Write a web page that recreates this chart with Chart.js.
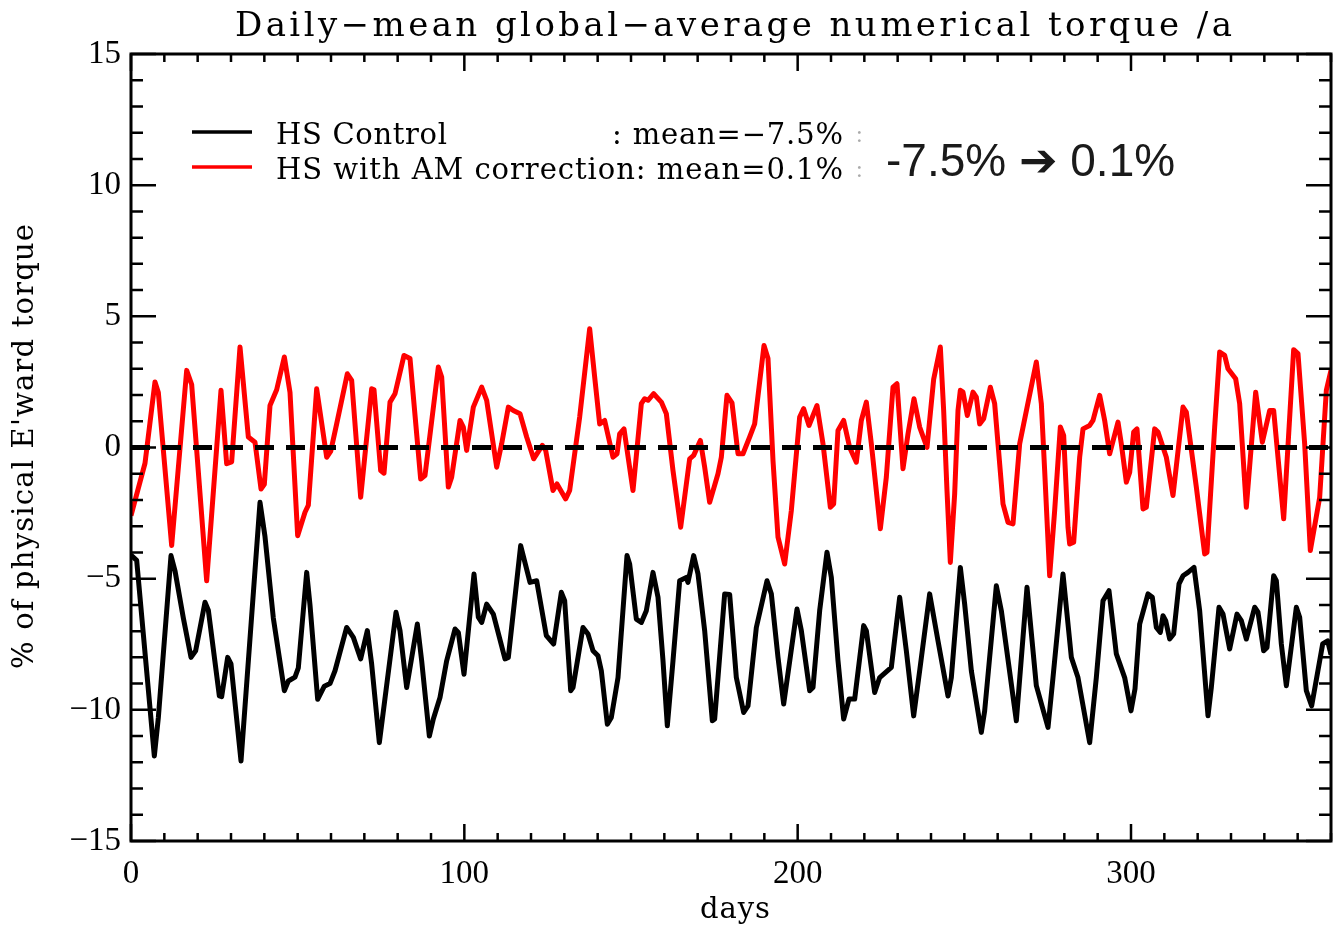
<!DOCTYPE html>
<html>
<head>
<meta charset="utf-8">
<script src="https://cdn.jsdelivr.net/npm/chart.js@4"></script>
<style>
  html, body { margin: 0; padding: 0; background: #fff; }
  canvas { display: block; }
</style>
</head>
<body>
<canvas id="chartTorque" width="1333" height="928"></canvas>
<script>
// days / values (line vertices)
const ctrlDays = [0, 1.7, 7.0, 8.2, 12.0, 13.2, 15.7, 18.0, 19.4, 22.2, 23.2, 26.5, 27.2, 29.0, 30.0, 33.0, 38.7, 40.2, 42.7, 46.0,
    47.2, 49.2, 50.2, 52.7, 53.7, 56.0, 58.0, 59.7, 61.2, 64.7, 66.7, 68.9, 70.9, 72.2, 74.5, 79.5, 80.7, 82.7, 85.9, 87.2,
    89.5, 90.7, 92.7, 94.7, 97.2, 98.2, 99.9, 102.9, 104.2, 105.2, 106.7, 108.7, 112.2, 113.2, 116.9, 119.7, 121.7, 124.6, 126.8, 129.1,
    130.1, 131.9, 132.6, 135.6, 137.1, 138.6, 140.1, 141.1, 142.9, 144.1, 146.1, 148.8, 149.6, 151.6, 153.1, 154.6, 156.6, 158.1, 159.6, 160.9,
    162.6, 164.6, 166.6, 167.1, 168.8, 170.1, 172.1, 174.4, 175.1, 178.1, 179.6, 181.6, 183.8, 185.1, 187.6, 190.8, 192.1, 194.1, 195.8, 199.8,
    201.1, 203.6, 204.6, 206.6, 208.8, 210.1, 212.1, 213.8, 215.4, 217.1, 219.8, 220.6, 223.1, 224.6, 228.1, 230.6, 232.6, 234.8, 236.6, 239.6,
    242.1, 245.1, 246.1, 248.8, 250.1, 252.1, 255.1, 256.1, 259.6, 261.1, 265.6, 268.8, 271.6, 275.1, 276.6, 279.6, 282.1, 284.1, 287.6, 289.6,
    291.6, 293.4, 295.6, 298.1, 300.0, 301.2, 302.6, 305.1, 306.4, 307.6, 308.8, 309.6, 310.4, 311.6, 312.8, 314.4, 315.6, 317.1, 318.9, 320.6,
    323.1, 324.1, 326.4, 327.6, 329.6, 331.8, 333.1, 334.6, 337.1, 338.1, 339.8, 340.8, 342.8, 343.6, 345.1, 346.6, 349.6, 350.6, 352.6, 354.2,
    357.5, 359.0, 360.0];
const ctrlValues = [-4.1, -4.3, -11.76, -10.3, -4.12, -4.7, -6.5, -8.0, -7.75, -5.9, -6.2, -9.47, -9.5, -8.0, -8.25, -11.95, -2.09, -3.4, -6.5, -9.27,
    -8.9, -8.75, -8.4, -4.76, -6.0, -9.6, -9.1, -9.0, -8.51, -6.86, -7.24, -8.06, -6.98, -8.26, -11.25, -6.28, -6.98, -9.15, -6.73, -8.13,
    -11.0, -10.35, -9.53, -8.13, -6.92, -7.05, -8.64, -4.82, -6.47, -6.67, -5.97, -6.35, -8.06, -8.0, -3.74, -5.14, -5.08, -7.17, -7.49, -5.52,
    -5.84, -9.27, -9.15, -6.86, -7.11, -7.75, -7.94, -8.51, -10.55, -10.29, -8.77, -4.12, -4.44, -6.54, -6.67, -6.22, -4.76, -5.71, -8.13, -10.61,
    -8.13, -5.08, -4.95, -5.14, -4.12, -4.82, -6.98, -10.42, -10.35, -5.58, -5.6, -8.77, -10.1, -9.85, -6.86, -5.08, -5.58, -8.0, -9.78, -6.16,
    -6.98, -9.27, -9.15, -6.22, -3.99, -4.95, -8.13, -10.35, -9.59, -9.59, -6.79, -6.98, -9.34, -8.77, -8.38, -5.71, -7.75, -10.23, -8.51, -5.58,
    -7.37, -9.47, -8.77, -4.57, -5.97, -8.51, -10.86, -10.04, -5.27, -6.22, -10.42, -5.33, -9.08, -10.67, -8.77, -4.82, -8.0, -8.77, -11.25, -8.77,
    -5.84, -5.46, -7.87, -8.77, -10.04, -9.2, -6.73, -5.58, -5.71, -6.86, -7.05, -6.41, -6.6, -7.3, -7.11, -5.2, -4.89, -4.76, -4.57, -6.22,
    -10.23, -9.15, -6.09, -6.35, -7.68, -6.35, -6.6, -7.3, -6.09, -6.28, -7.75, -7.62, -4.89, -5.08, -7.49, -9.08, -6.09, -6.47, -9.27, -9.85,
    -7.49, -7.37, -7.9];

const amDays = [0, 4.2, 7.2, 8.2, 12.2, 16.7, 18.2, 22.7, 27.0, 28.7, 30.2, 32.7, 35.2, 37.2, 39.0, 40.0, 41.7, 43.7, 46.0, 47.7,
    50.0, 52.2, 53.2, 55.7, 58.7, 59.9, 61.7, 64.9, 66.2, 68.9, 72.2, 72.9, 74.9, 75.9, 77.7, 79.2, 81.9, 83.7, 86.9, 88.2,
    92.2, 93.2, 95.2, 96.2, 98.7, 99.7, 100.7, 102.7, 105.2, 106.7, 109.7, 111.2, 113.2, 114.7, 116.7, 118.7, 120.8, 123.4, 124.4, 126.6,
    127.8, 130.4, 131.6, 134.6, 137.6, 139.1, 140.6, 142.1, 144.6, 145.8, 146.6, 147.9, 150.6, 153.1, 154.1, 155.1, 156.8, 159.1, 160.6, 162.6,
    164.9, 167.6, 168.8, 170.8, 172.1, 173.6, 176.1, 177.1, 178.8, 180.3, 182.1, 183.6, 185.6, 187.1, 189.9, 191.1, 192.6, 194.1, 196.1, 198.1,
    200.6, 201.8, 203.4, 205.8, 207.6, 209.8, 210.8, 212.1, 213.8, 215.6, 217.6, 219.1, 220.6, 222.1, 224.8, 226.6, 228.6, 229.8, 231.6, 233.1,
    234.9, 236.6, 238.8, 240.8, 242.8, 243.8, 244.8, 245.8, 247.1, 248.1, 248.8, 249.6, 250.9, 252.6, 253.6, 254.6, 255.8, 257.8, 259.1, 260.1,
    261.6, 263.1, 264.6, 266.6, 267.8, 271.6, 273.1, 274.1, 275.6, 277.1, 278.8, 279.8, 281.1, 281.6, 282.8, 284.6, 285.6, 287.6, 288.6, 290.6,
    292.1, 293.6, 296.1, 297.1, 298.6, 299.6, 300.8, 301.8, 303.6, 304.6, 307.1, 308.1, 310.6, 312.6, 315.6, 316.6, 319.6, 322.1, 322.8, 325.1,
    326.6, 328.1, 329.1, 331.4, 332.6, 334.6, 337.4, 339.4, 341.6, 342.8, 345.8, 348.8, 350.1, 352.1, 353.8, 356.6, 358.6, 360.0];
const amValues = [-2.6, -0.6, 2.5, 2.1, -3.74, 2.94, 2.4, -5.08, 2.18, -0.62, -0.55, 3.83, 0.4, 0.2, -1.58, -1.4, 1.6, 2.2, 3.45, 2.1,
    -3.36, -2.47, -2.2, 2.24, -0.37, -0.15, 0.9, 2.81, 2.56, -1.9, 2.24, 2.2, -0.88, -0.98, 1.73, 2.05, 3.51, 3.39, -1.2, -1.07,
    3.07, 2.69, -1.51, -1.13, 1.03, 0.78, -0.11, 1.54, 2.3, 1.8, -0.75, 0.14, 1.54, 1.41, 1.29, 0.4, -0.43, 0.08, -0.11, -1.64,
    -1.39, -1.96, -1.64, 1.16, 4.53, 2.69, 0.9, 1.03, -0.37, -0.24, 0.52, 0.71, -1.64, 1.67, 1.86, 1.8, 2.05, 1.73, 1.29, -0.88,
    -3.04, -0.43, -0.3, 0.27, -0.75, -2.09, -1.0, -0.37, 1.99, 1.7, -0.24, -0.24, 0.4, 0.9, 3.89, 3.39, -0.5, -3.42, -4.44, -2.4,
    1.16, 1.48, 0.84, 1.6, 0.14, -2.28, -2.15, 0.65, 1.03, 0, -0.56, 1.03, 1.73, 0.14, -3.1, -1.13, 2.3, 2.43, -0.81, 0.52,
    1.86, 0.78, 0.0, 2.6, 3.83, 1.41, -1.64, -4.38, -1.77, 1.41, 2.18, 2.11, 1.22, 2.11, 1.92, 0.9, 1.1, 2.3, 1.67, 0.14,
    -2.15, -2.85, -2.91, 0.14, 0.9, 3.26, 1.67, -0.88, -4.89, -2.4, 0.78, 0.46, -3.04, -3.68, -3.61, -0.37, 0.71, 0.84, 1.03, 1.99,
    1.03, -0.24, 0.97, 0.14, -1.32, -0.95, 0.59, 0.71, -2.34, -2.28, 0.71, 0.59, -0.37, -1.83, 1.54, 1.35, -1.51, -4.06, -4.0, 0.78,
    3.64, 3.51, 3.0, 2.62, 1.67, -2.28, 2.11, 0.2, 1.41, 1.41, -2.72, 3.73, 3.58, 0.14, -3.93, -1.9, 2.18, 2.94];

// dashed zero reference
const zeroDays = [0, 360];
const zeroValues = [0, 0];

const xMajorTicks = [0, 100, 200, 300];
const yMajorTicks = [-15, -10, -5, 0, 5, 10, 15];

const titulo = 'Daily\u2212mean global\u2212average numerical torque /a';
const yTitulo = "% of physical E'ward torque";
const xTitulo = 'days';
const nota = '-7.5% \u2794 0.1%';

const serif = '"Liberation Serif", "DejaVu Serif", serif';
const wideSerif = '"DejaVu Serif", "Liberation Serif", serif';

const toPoints = (xs, ys) => xs.map((x, i) => ({ x: x, y: ys[i] }));

// draws text stretched to a given width by spacing the letters (IDL hershey look)
const spaced = (ctx, text, x, y, width) => {
    const chars = [...text];
    const widths = chars.map(c => ctx.measureText(c).width);
    const total = widths.reduce((s, w) => s + w, 0);
    const gap = chars.length > 1 ? (width - total) / (chars.length - 1) : 0;
    let cx = x;
    chars.forEach((c, i) => {
        ctx.fillText(c, cx, y);
        cx += widths[i] + gap;
    });
};

// inward IDL style ticks on all four sides plus box
const idlFrame = {
    id: 'idlFrame',
    afterDatasetsDraw(chart) {
        const { ctx, chartArea: a, scales } = chart;
        const x = scales.x, y = scales.y;
        ctx.save();
        ctx.strokeStyle = '#000';
        ctx.lineWidth = 2.5;
        ctx.beginPath();
        for (let d = 0; d <= 360; d += 10) {
            const px = x.getPixelForValue(d);
            const len = xMajorTicks.includes(d) ? 17 : 8;
            ctx.moveTo(px, a.bottom); ctx.lineTo(px, a.bottom - len);
            ctx.moveTo(px, a.top); ctx.lineTo(px, a.top + len);
        }
        for (let v = -15; v <= 15; v++) {
            const py = y.getPixelForValue(v);
            const len = yMajorTicks.includes(v) ? 25 : 12;
            ctx.moveTo(a.left, py); ctx.lineTo(a.left + len, py);
            ctx.moveTo(a.right, py); ctx.lineTo(a.right - len, py);
        }
        ctx.stroke();
        ctx.lineWidth = 3;
        ctx.strokeRect(a.left, a.top, a.right - a.left, a.bottom - a.top);
        ctx.restore();
    }
};

const textos = {
    id: 'textos',
    afterDraw(chart) {
        const ctx = chart.ctx;
        ctx.save();
        ctx.fillStyle = '#000';
        ctx.textAlign = 'left';
        ctx.textBaseline = 'alphabetic';

        ctx.font = '34px ' + wideSerif;
        spaced(ctx, titulo, 235, 36, 997);

        // legend
        ctx.lineWidth = 3.5;
        ctx.strokeStyle = chart.data.datasets[2].borderColor;
        ctx.beginPath(); ctx.moveTo(192, 132); ctx.lineTo(252, 132); ctx.stroke();
        ctx.strokeStyle = chart.data.datasets[1].borderColor;
        ctx.beginPath(); ctx.moveTo(192, 167); ctx.lineTo(252, 167); ctx.stroke();
        ctx.font = '29px ' + wideSerif;
        spaced(ctx, 'HS Control', 276, 144, 171);
        spaced(ctx, ': mean=\u22127.5%', 612, 144, 231);
        spaced(ctx, 'HS with AM correction: mean=0.1%', 276, 179, 567);
        ctx.fillStyle = '#aaa';
        ctx.font = '24px ' + serif;
        ctx.fillText(':', 856, 142);
        ctx.fillText(':', 856, 177);

        // axis titles
        ctx.fillStyle = '#000';
        ctx.font = '29px ' + wideSerif;
        spaced(ctx, xTitulo, 700, 918, 70);
        ctx.save();
        ctx.translate(25, 447);
        ctx.rotate(-Math.PI / 2);
        ctx.textBaseline = 'middle';
        spaced(ctx, yTitulo, -222, 0, 445);
        ctx.restore();

        // annotation
        ctx.fillStyle = '#1a1a1a';
        ctx.font = '46px "Liberation Sans", Arial, "DejaVu Sans", sans-serif';
        ctx.fillText(nota, 886, 176);
        ctx.restore();
    }
};

const canvas = document.getElementById('chartTorque');
const context = canvas.getContext('2d');

const chartTorque = new Chart(context, {
    type: 'line',
    data: {
        datasets: [
            {
                label: 'zero',
                data: toPoints(zeroDays, zeroValues),
                borderColor: '#000',
                borderWidth: 5,
                borderDash: [19, 12]
            },
            {
                label: 'HS with AM correction',
                data: toPoints(amDays, amValues),
                borderColor: '#ff0000',
                borderWidth: 5
            },
            {
                label: 'HS Control',
                data: toPoints(ctrlDays, ctrlValues),
                borderColor: '#000',
                borderWidth: 5
            }
        ]
    },
    options: {
        responsive: false,
        animation: false,
        devicePixelRatio: 1,
        layout: { padding: { top: 54, right: 2, left: 0, bottom: 0 } },
        elements: {
            point: { radius: 0 },
            line: { tension: 0, borderJoinStyle: 'round', fill: false }
        },
        plugins: {
            legend: { display: false },
            tooltip: { enabled: false },
            title: { display: false }
        },
        scales: {
            x: {
                type: 'linear',
                min: 0,
                max: 360,
                grid: { display: false, drawTicks: false },
                border: { display: false },
                ticks: {
                    stepSize: 100,
                    includeBounds: false,
                    autoSkip: false,
                    maxRotation: 0,
                    padding: 14,
                    color: '#000',
                    font: { family: serif, size: 33 }
                },
                afterFit: scale => { scale.height = 87; }
            },
            y: {
                type: 'linear',
                min: -15,
                max: 15,
                grid: { display: false, drawTicks: false },
                border: { display: false },
                ticks: {
                    stepSize: 5,
                    autoSkip: false,
                    padding: 10,
                    color: '#000',
                    font: { family: serif, size: 33 },
                    callback: v => String(v).replace('-', '\u2212')
                },
                afterFit: scale => { scale.width = 131; }
            }
        }
    },
    plugins: [idlFrame, textos]
});
</script>
</body>
</html>
